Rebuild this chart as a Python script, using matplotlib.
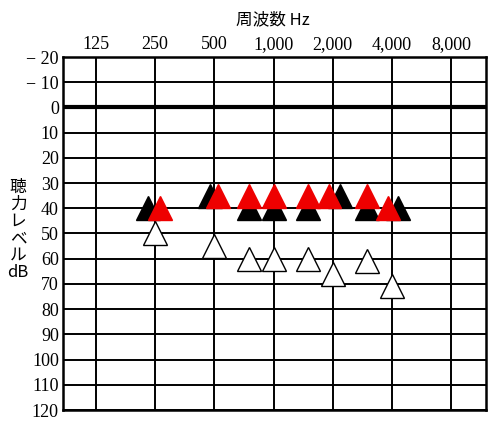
import matplotlib
matplotlib.use("Agg")
import matplotlib.pyplot as plt
import numpy as np

freq_labels = ["125", "250", "500", "1,000", "2,000", "4,000", "8,000"]
freq_ticks = [125, 250, 500, 1000, 2000, 4000, 8000]
db_ticks = list(range(-20, 121, 10))

red_f = [250, 500, 750, 1000, 1500, 2000, 3000, 4000]
red_db = [40, 35, 35, 35, 35, 35, 35, 40]
red_off = [0.08, 0.07, 0, 0, 0, -0.07, 0, -0.07]

black_f = [250, 500, 750, 1000, 1500, 2000, 3000, 4000]
black_db = [40, 35, 40, 40, 40, 35, 40, 40]
black_off = [-0.12, -0.07, 0, 0, 0, 0.12, 0, 0.1]

white_f = [250, 500, 750, 1000, 1500, 2000, 3000, 4000]
white_db = [50, 55, 60, 60, 60, 66, 61, 71]

fig = plt.figure(figsize=(5, 4.23), dpi=100)
ax = fig.add_axes([63/500, 1-410/423, 423/500, 353/423])
ax.set_xscale("log", base=2)
ax.set_xlim(125*2**(-33/59.2), 8000*2**(35/59.2))
ax.set_ylim(120, -20)
ax.set_xticks(freq_ticks)
ax.set_xticklabels(freq_labels, fontfamily="Liberation Serif", fontsize=13)
ax.xaxis.set_minor_locator(matplotlib.ticker.NullLocator())
ax.xaxis.tick_top()
ax.set_yticks(db_ticks)
ax.set_yticklabels([("− %d" % -v) if v < 0 else str(v) for v in db_ticks],
                   fontfamily="Liberation Serif", fontsize=13)
ax.tick_params(length=0, pad=3)
ax.grid(True, color="black", lw=1.4)
ax.axhline(0, color="black", lw=3)
for s in ax.spines.values():
    s.set_linewidth(1.8)

ms = 17
bx = np.array(black_f) * 2.0**np.array(black_off)
ax.plot(bx, black_db, "^", ms=ms, color="black", ls="none", zorder=3)
rx = np.array(red_f) * 2.0**np.array(red_off)
ax.plot(rx, red_db, "^", ms=ms, color="#ee0000", ls="none", zorder=4)
ax.plot(white_f, white_db, "^", ms=ms, mfc="white", mec="black", mew=1.0, ls="none", zorder=3)

fig.text(273/500, 1-20/423, "周波数 Hz", ha="center", va="center",
         fontfamily=["Noto Sans CJK JP", "DejaVu Sans"], fontsize=12)
fig.text(18/500, 1-230/423, "聴\n力\nレ\nベ\nル\ndB", ha="center", va="center",
         fontfamily=["Noto Sans CJK JP", "DejaVu Sans"], fontsize=12, linespacing=1.0)

fig.savefig("out.png", dpi=100)
